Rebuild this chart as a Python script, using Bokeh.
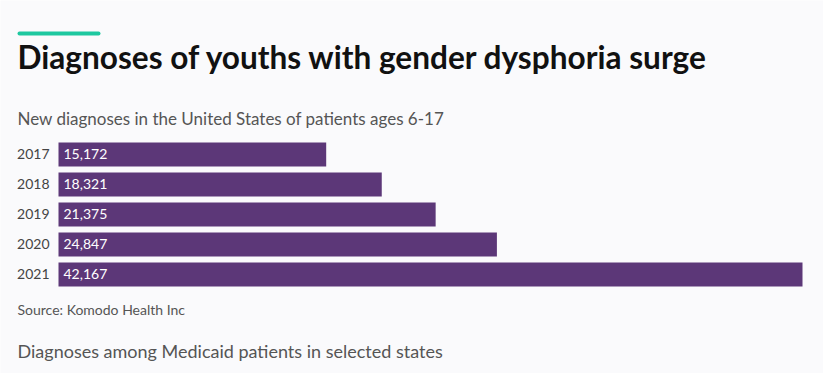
from bokeh.plotting import figure
from bokeh.models import Range1d, Label, BoxAnnotation, ColumnDataSource
from bokeh.embed import file_html
from bokeh.resources import INLINE
from bokeh.core.properties import value

years = [2017, 2018, 2019, 2020, 2021]
diagnoses = [15172, 18321, 21375, 24847, 42167]
year_labels = [str(y) for y in years]
value_labels = [f"{v:,}" for v in diagnoses]

title = "Diagnoses of youths with gender dysphoria surge"
subtitle = "New diagnoses in the United States of patients ages 6-17"
source_note = "Source: Komodo Health Inc"
next_title = "Diagnoses among Medicaid patients in selected states"

BG = "#fafafc"
BAR = "#5c3778"
FONT = "Lato"

W, H = 823, 373
src = ColumnDataSource(dict(year=years, n=diagnoses, ylab=year_labels, vlab=value_labels))

p = figure(width=W, height=H, output_backend="svg", toolbar_location=None,
           x_range=Range1d(-3287, 43357), y_range=Range1d(2024.3, 2011.867),
           min_border=0, min_border_left=0, min_border_right=0,
           min_border_top=0, min_border_bottom=0)
p.axis.visible = False
p.grid.visible = False
p.outline_line_color = None
p.background_fill_color = BG
p.border_fill_color = BG

p.hbar(y="year", left=0, right="n", height=0.8, source=src,
       fill_color=BAR, line_color=None)
p.text(x=0, y="year", text="vlab", source=src, x_offset=5,
       text_color="white", text_font=value(FONT), text_font_size="14px",
       text_baseline="middle", text_align="left")
p.text(x=0, y="year", text="ylab", source=src, x_offset=-9,
       text_color="#444444", text_font=value(FONT), text_font_size="14px",
       text_baseline="middle", text_align="right")

p.add_layout(BoxAnnotation(left=17, right=100, top=H - 31, bottom=H - 35,
                           left_units="screen", right_units="screen",
                           top_units="screen", bottom_units="screen",
                           fill_color="#1ec8a0", fill_alpha=1, line_color=None,
                           border_radius=2))

def lab(text, y, size, color, bold=False):
    p.add_layout(Label(x=17, y=y, x_units="screen", y_units="screen", text=text,
                       text_font=FONT, text_font_size=size, text_color=color,
                       text_font_style="bold" if bold else "normal",
                       text_baseline="alphabetic"))

lab(title, H - 56, "31.6px", "#111111", bold=True)
lab(subtitle, H - 118, "17px", "#555555")
lab(source_note, H - 309, "14px", "#555555")
lab(next_title, H - 350, "18px", "#555555")

open("out.html", "w").write(file_html(p, INLINE))
